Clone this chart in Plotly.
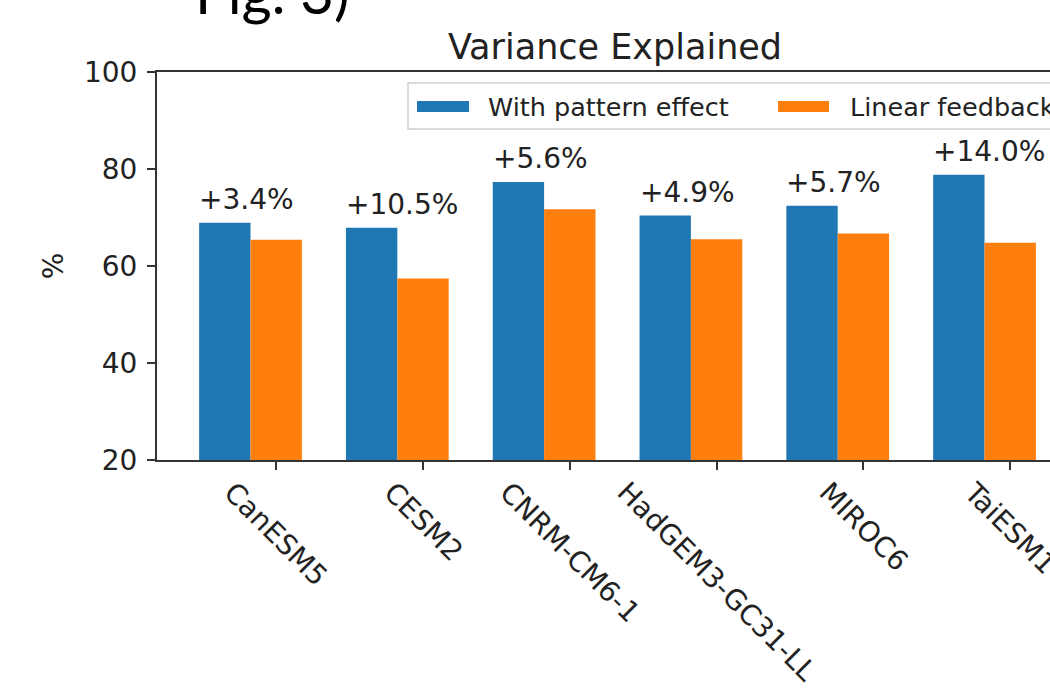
import plotly.graph_objects as go

# ---- data ----
models = ["CanESM5", "CESM2", "CNRM-CM6-1", "HadGEM3-GC31-LL", "MIROC6", "TaiESM1"]
with_pattern = [68.9, 67.9, 77.3, 70.4, 72.4, 78.8]
linear_feedback = [65.4, 57.4, 71.7, 65.5, 66.7, 64.8]
gain_labels = ["+3.4%", "+10.5%", "+5.6%", "+4.9%", "+5.7%", "+14.0%"]
series_names = ["With pattern effect", "Linear feedback"]
y_ticks = [20, 40, 60, 80, 100]

BLUE = "#1f77b4"
ORANGE = "#ff7f0e"
W = 0.35
pos = list(range(len(models)))

# figure geometry (pixels)
FW, FH = 1050, 693
L, R, T, B = 157, 0, 72, 233
PW, PH = FW - L - R, FH - T - B


def px_x(px):
    return (px - L) / PW


def px_y(py):
    return (FH - B - py) / PH


fig = go.Figure()
fig.add_trace(go.Bar(x=pos, y=with_pattern, width=W, offset=-W, name=series_names[0],
                     marker=dict(color=BLUE, line=dict(width=0)), showlegend=False))
fig.add_trace(go.Bar(x=pos, y=linear_feedback, width=W, offset=0, name=series_names[1],
                     marker=dict(color=ORANGE, line=dict(width=0)), showlegend=False))

annotations = []
# gain labels above blue bars (left aligned at blue bar's left edge)
for p, v, t in zip(pos, with_pattern, gain_labels):
    annotations.append(dict(x=p - W, y=v, xref="x", yref="y", text=t, showarrow=False,
                            xanchor="left", yanchor="bottom", yshift=5, xshift=-2,
                            font=dict(family="DejaVu Sans", size=28, color="#222")))
# rotated category labels centred under the ticks
for p, m in zip(pos, models):
    annotations.append(dict(x=p + W / 2, y=0, xref="x", yref="paper", text=m, showarrow=False,
                            xanchor="center", yanchor="top", textangle=45, yshift=-13,
                            font=dict(family="DejaVu Sans", size=28, color="#222")))
# legend texts
annotations.append(dict(x=px_x(486), y=px_y(107), xref="paper", yref="paper", text=series_names[0],
                        showarrow=False, xanchor="left", yanchor="middle",
                        font=dict(family="DejaVu Sans", size=25.5, color="#222")))
annotations.append(dict(x=px_x(848), y=px_y(107), xref="paper", yref="paper", text=series_names[1],
                        showarrow=False, xanchor="left", yanchor="middle",
                        font=dict(family="DejaVu Sans", size=25.5, color="#222")))
# slide caption partially visible at top
annotations.append(dict(x=px_x(193), y=px_y(28), xref="paper", yref="paper", text="Fig. 3)",
                        showarrow=False, xanchor="left", yanchor="bottom",
                        font=dict(family="Lato", size=58, color="#000")))

shapes = [
    dict(type="rect", xref="paper", yref="paper", x0=px_x(408), x1=px_x(1069),
         y0=px_y(129), y1=px_y(83), line=dict(color="#cfcfcf", width=1.5),
         fillcolor="rgba(255,255,255,0.8)", layer="above"),
    dict(type="rect", xref="paper", yref="paper", x0=px_x(417), x1=px_x(469),
         y0=px_y(112), y1=px_y(101), line=dict(width=0), fillcolor=BLUE, layer="above"),
    dict(type="rect", xref="paper", yref="paper", x0=px_x(778), x1=px_x(829),
         y0=px_y(112), y1=px_y(101), line=dict(width=0), fillcolor=ORANGE, layer="above"),
]

fig.update_layout(
    width=FW, height=FH,
    margin=dict(l=L, r=R, t=T, b=B, autoexpand=False),
    paper_bgcolor="white", plot_bgcolor="white",
    barmode="overlay",
    title=dict(text="Variance Explained", x=615 / FW, xanchor="center", xref="container",
               y=1 - 59 / FH, yanchor="bottom", yref="container",
               font=dict(family="DejaVu Sans", size=35, color="#222")),
    xaxis=dict(range=[-0.637, 5.446], tickvals=[p + W / 2 for p in pos], ticktext=models,
               showticklabels=False, ticks="outside", ticklen=8, tickwidth=1.5, tickcolor="#333",
               showline=True, linecolor="#333", linewidth=2, mirror=True,
               showgrid=False, zeroline=False),
    yaxis=dict(range=[20, 100], tickvals=y_ticks, ticks="outside", ticklen=8, tickwidth=1.5,
               tickcolor="#333", showline=True, linecolor="#333", linewidth=2,
               showgrid=False, zeroline=False, ticklabelstandoff=4,
               tickfont=dict(family="DejaVu Sans", size=28, color="#222"),
               title=dict(text="%", standoff=12, font=dict(family="DejaVu Sans", size=28, color="#222"))),
    annotations=annotations,
    shapes=shapes,
)

fig.write_html("out.html", config={"displayModeBar": False},
               post_script="document.body.style.margin='0px';")
